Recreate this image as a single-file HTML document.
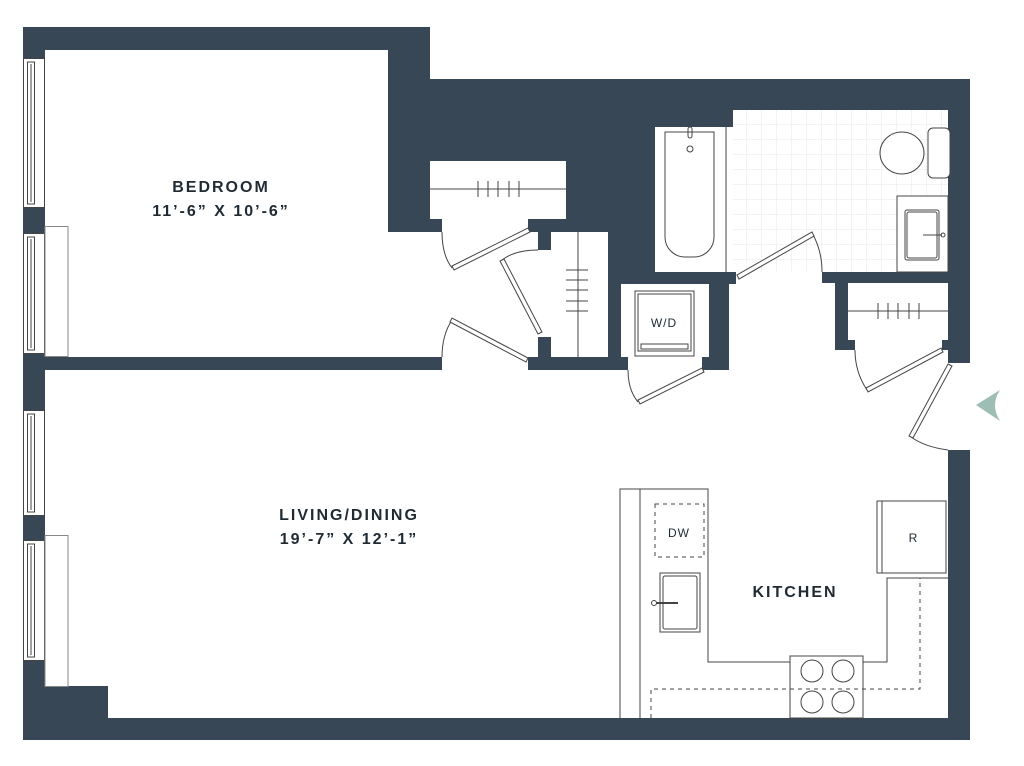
<!DOCTYPE html>
<html><head><meta charset="utf-8"><style>
html,body{margin:0;padding:0;background:#fff;}
svg{display:block;}
text{font-family:"Liberation Sans",sans-serif;font-weight:bold;fill:#1f2a33;letter-spacing:2px;}
</style></head><body>
<svg width="1024" height="766" viewBox="0 0 1024 766" xmlns="http://www.w3.org/2000/svg">
<defs>
<pattern id="tile" x="732" y="110" width="15" height="15" patternUnits="userSpaceOnUse">
<path d="M15 0V15H0" fill="none" stroke="#e6e8ea" stroke-width="1"/>
</pattern>
</defs>
<g fill="#384755">
<rect x="23" y="27" width="22" height="31"/>
<rect x="23" y="207" width="22" height="26"/>
<rect x="23" y="353" width="22" height="57"/>
<rect x="23" y="515" width="22" height="26"/>
<rect x="23" y="660" width="22" height="80"/>
<rect x="23" y="686" width="85" height="54"/>
<rect x="23" y="718" width="947" height="22"/>
<rect x="23" y="27" width="407" height="23"/>
<rect x="388" y="27" width="42" height="205"/>
<rect x="388" y="79" width="582" height="31"/>
<rect x="948" y="79" width="22" height="284"/>
<rect x="948" y="450" width="22" height="290"/>
<rect x="430" y="110" width="225" height="51"/>
<rect x="566" y="110" width="89" height="174"/>
<rect x="430" y="161" width="12" height="71"/>
<rect x="528" y="219" width="38" height="13"/>
<rect x="538" y="219" width="13" height="31"/>
<rect x="538" y="337" width="13" height="33"/>
<rect x="608" y="232" width="121" height="52"/>
<rect x="608" y="232" width="13" height="138"/>
<rect x="709" y="272" width="20" height="98"/>
<rect x="702" y="357" width="27" height="13"/>
<rect x="528" y="357" width="100" height="13"/>
<rect x="655" y="110" width="78" height="17"/>
<rect x="655" y="272" width="81" height="12"/>
<rect x="822" y="272" width="126" height="11"/>
<rect x="835" y="272" width="13" height="78"/>
<rect x="835" y="340" width="20" height="10"/>
<rect x="942" y="340" width="8" height="10"/>
<rect x="45" y="357" width="397" height="13"/>
</g>
<rect x="430" y="161" width="136" height="58" fill="#fff"/>
<rect x="551" y="232" width="57" height="125" fill="#fff"/>
<rect x="621" y="284" width="88" height="73" fill="#fff"/>
<rect x="655" y="127" width="78" height="145" fill="#fff"/>
<rect x="733" y="110" width="215" height="162" fill="#fff"/>
<rect x="733" y="110" width="215" height="162" fill="url(#tile)"/>
<rect x="848" y="283" width="100" height="57" fill="#fff"/>
<g fill="none" stroke="#444" stroke-width="1">
<g>
<rect x="23.5" y="58.5" width="21" height="149"/><rect x="27.5" y="62" width="7" height="142"/><line x1="31" y1="64" x2="31" y2="202"/>
<rect x="23.5" y="233.5" width="21" height="120"/><rect x="27.5" y="237" width="7" height="113"/><line x1="31" y1="239" x2="31" y2="348"/>
<rect x="23.5" y="410.5" width="21" height="105"/><rect x="27.5" y="414" width="7" height="98"/><line x1="31" y1="416" x2="31" y2="510"/>
<rect x="23.5" y="540.5" width="21" height="120"/><rect x="27.5" y="544" width="7" height="113"/><line x1="31" y1="546" x2="31" y2="655"/>
</g>
<rect x="45" y="226.5" width="23" height="130" stroke="#888"/>
<rect x="45" y="535.5" width="23" height="151" stroke="#888"/>
<line x1="430" y1="189" x2="566" y2="189"/>
<path d="M478 181v16M488 181v16M498 181v16M509 181v16M519 181v16"/>
<line x1="578" y1="232" x2="578" y2="357"/>
<path d="M566 270h22M566 280h22M566 290h22M566 301h22M566 311h22"/>
<line x1="848" y1="311" x2="948" y2="311"/>
<path d="M878 303v16M888 303v16M898 303v16M909 303v16M919 303v16"/>
<rect x="635" y="291" width="59" height="65"/>
<rect x="638" y="294" width="53" height="57"/>
<rect x="641" y="344" width="47" height="5"/>
<line x1="726" y1="127" x2="726" y2="272"/>
<path d="M665 132h49v105a20 20 0 0 1 -20 20h-9a20 20 0 0 1 -20 -20z"/>
<rect x="688" y="127" width="4" height="11" rx="2"/>
<circle cx="690" cy="149" r="3"/>
<rect x="928" y="128" width="22" height="50" rx="5" fill="#fff"/>
<ellipse cx="902" cy="153" rx="22" ry="21" fill="#fff"/>
<rect x="897" y="196" width="51" height="76" fill="#fff"/>
<rect x="905" y="210" width="34" height="50" rx="2"/>
<rect x="907" y="212" width="30" height="46" rx="2"/>
<line x1="923" y1="235" x2="942" y2="235"/>
<circle cx="943" cy="235" r="2"/>
<path d="M442 232 Q442 255 452 268"/>
<path d="M538 250 Q515 250 502 260"/>
<path d="M442 357 Q442 335 452 320"/>
<path d="M628 370 Q628 390 638 402"/>
<path d="M822 272 Q822 250 812 233"/>
<path d="M855 350 Q855 372 867 390"/>
<path d="M911 437 Q925 447 948 450"/>
<path d="M620 718V489h88v173h82"/>
<line x1="640" y1="489" x2="640" y2="718"/>
<path d="M863 662h24v-84h61"/>
<rect x="790" y="656" width="73" height="62"/>
<circle cx="812" cy="671" r="11"/><circle cx="843" cy="671" r="11"/>
<circle cx="812" cy="702" r="11"/><circle cx="843" cy="702" r="11"/>
<rect x="877" y="501" width="69" height="72"/>
<line x1="882" y1="501" x2="882" y2="573"/>
<rect x="660" y="573" width="40" height="59"/>
<rect x="663" y="576" width="34" height="53" rx="2"/>
<line x1="654" y1="603" x2="678" y2="603" stroke-width="2"/>
<circle cx="654" cy="603" r="2.5" fill="#fff"/>
<g stroke-dasharray="4 4">
<rect x="655" y="504" width="49" height="53"/>
<path d="M651 718V689h269V578"/>
</g>
</g>
<g fill="#fff" stroke="#444" stroke-width="1">
<polygon points="528,228 530,232 454,270 452,266"/>
<polygon points="542,332 538,334 500,261 504,259"/>
<polygon points="528,358 526,362 450,322 452,318"/>
<polygon points="702,368 704,372 640,404 638,400"/>
<polygon points="737,275 739,279 814,236 812,232"/>
<polygon points="941,348 943,352 868,392 866,388"/>
<polygon points="948,364 952,366 913,438 909,436"/>
</g>
<path d="M976 405 L1000 390 Q990 405 1000 421 Z" fill="#9dbdb5"/>
<text x="221" y="192" font-size="16" text-anchor="middle">BEDROOM</text>
<text x="221" y="216" font-size="16" text-anchor="middle">11’-6” X 10’-6”</text>
<text x="349" y="520" font-size="16" text-anchor="middle">LIVING/DINING</text>
<text x="349" y="544" font-size="16" text-anchor="middle">19’-7” X 12’-1”</text>
<text x="795" y="597" font-size="16" text-anchor="middle">KITCHEN</text>
<text x="664" y="327" font-size="12" text-anchor="middle" style="font-weight:normal;letter-spacing:1px">W/D</text>
<text x="679" y="537" font-size="12" text-anchor="middle" style="font-weight:normal;letter-spacing:1px">DW</text>
<text x="914" y="542" font-size="12" text-anchor="middle" style="font-weight:normal">R</text>
</svg>
</body></html>
